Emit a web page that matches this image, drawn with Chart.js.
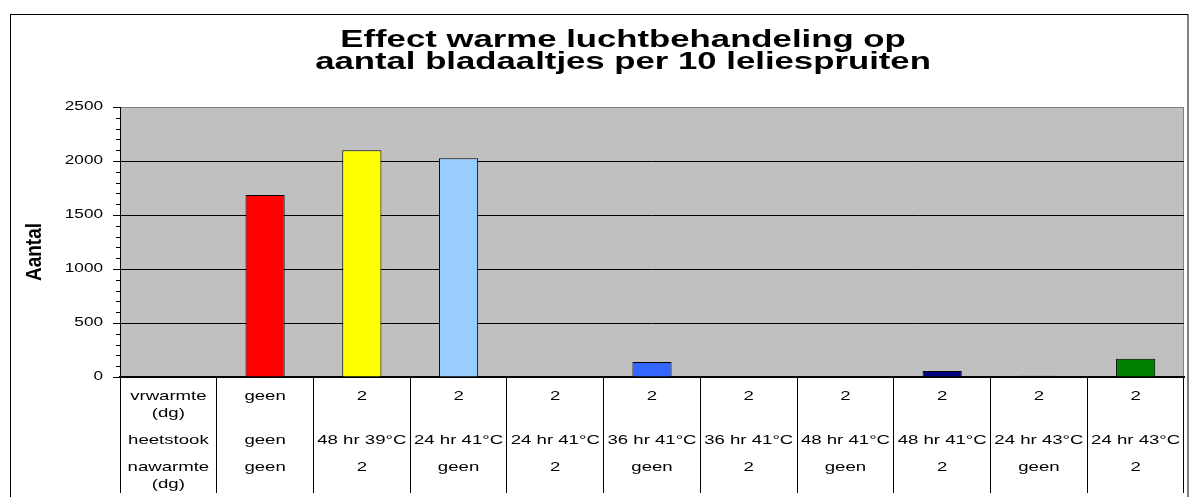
<!DOCTYPE html>
<html>
<head>
<meta charset="utf-8">
<script src="https://cdn.jsdelivr.net/npm/chart.js@4.4.1/dist/chart.umd.min.js"></script>
<style>
  html, body { margin: 0; padding: 0; background: #ffffff; }
  #wrap { position: relative; width: 1189px; height: 497px; overflow: hidden; }
  canvas { display: block; }
</style>
</head>
<body>
<div id="wrap"><canvas id="c" width="1189" height="497"></canvas></div>
<script>
// ---- data ----
const titleLines = ["Effect warme luchtbehandeling op", "aantal bladaaltjes per 10 leliespruiten"];
const yTitle = "Aantal";
const rowHeaders = [["vrwarmte", "(dg)"], ["heetstook"], ["nawarmte", "(dg)"]];
const vrwarmte = ["geen", "2", "2", "2", "2", "2", "2", "2", "2", "2"];
const heetstook = ["geen", "48 hr 39°C", "24 hr 41°C", "24 hr 41°C", "36 hr 41°C", "36 hr 41°C", "48 hr 41°C", "48 hr 41°C", "24 hr 43°C", "24 hr 43°C"];
const nawarmte = ["geen", "2", "geen", "2", "geen", "2", "geen", "2", "geen", "2"];
const values = [null, 1685, 2100, 2025, 0, 140, 0, 0, 55, 12, 168];
const barColors = ["#ffffff", "#ff0000", "#ffff00", "#99ccff", "#3366ff", "#3366ff", "#000080", "#000080", "#000080", "#1a1a00", "#008000"];
const yMin = 0, yMax = 2500, yStep = 500, yMinorStep = 100;

// categories: first column holds the row headers, the rest the treatments
const categories = ["kop"].concat(heetstook.map((h, i) => vrwarmte[i] + " | " + h + " | " + nawarmte[i]));

const FONT = "'Liberation Sans', Arial, sans-serif";
const SX = 1.43;       // horizontal glyph stretch seen in the reference
const SX_TITLE = 1.51;

const stretchPlugin = {
  id: 'stretch',
  beforeDraw(chart) {
    const ctx = chart.ctx;
    const orig = CanvasRenderingContext2D.prototype.fillText;
    ctx.fillText = function (text, x, y, maxWidth) {
      const m = this.getTransform();
      if (m.b !== 0 || m.c !== 0) {
        return maxWidth === undefined ? orig.call(this, text, x, y) : orig.call(this, text, x, y, maxWidth);
      }
      const sx = this.font.indexOf('23px') >= 0 ? SX_TITLE : SX;
      this.save();
      this.translate(x, y);
      this.scale(sx, 1);
      if (maxWidth === undefined) orig.call(this, text, 0, 0); else orig.call(this, text, 0, 0, maxWidth);
      this.restore();
    };
    // frame + plot background
    const a = chart.chartArea;
    ctx.save();
    ctx.strokeStyle = '#000000';
    ctx.lineWidth = 1;
    ctx.strokeRect(10.5, 14.5, 1177.5, 500);
    ctx.fillStyle = '#c0c0c0';
    ctx.fillRect(a.left, a.top, a.right - a.left, a.bottom - a.top);
    ctx.strokeStyle = '#808080';
    ctx.beginPath();
    ctx.moveTo(a.left, a.top + 0.5);
    ctx.lineTo(a.right - 0.5, a.top + 0.5);
    ctx.lineTo(a.right - 0.5, a.bottom);
    ctx.stroke();
    ctx.restore();
  },
  afterDatasetsDraw(chart) {
    const ctx = chart.ctx;
    const x = chart.scales.x, y = chart.scales.y;
    ctx.save();
    // minor ticks
    ctx.strokeStyle = '#000000';
    ctx.lineWidth = 1;
    ctx.beginPath();
    for (let v = yMin + yMinorStep; v < yMax; v += yMinorStep) {
      if (v % yStep === 0) continue;
      const py = Math.round(y.getPixelForValue(v)) + 0.5;
      ctx.moveTo(x.left - 4, py);
      ctx.lineTo(x.left, py);
    }
    ctx.stroke();
    // data table
    ctx.fillStyle = '#000000';
    ctx.font = '13px ' + FONT;
    ctx.textAlign = 'center';
    ctx.textBaseline = 'middle';
    const rowY = [[396, 413], [440], [467, 484]];
    rowHeaders.forEach((lines, r) => {
      lines.forEach((t, k) => ctx.fillText(t, x.getPixelForValue(0), rowY[r][k]));
    });
    [vrwarmte, heetstook, nawarmte].forEach((row, r) => {
      row.forEach((t, i) => ctx.fillText(t, x.getPixelForValue(i + 1), rowY[r][0]));
    });
    ctx.restore();
  },
  afterDraw(chart) {
    const ctx = chart.ctx;
    delete ctx.fillText;
    ctx.save();
    ctx.translate(35, 252);
    ctx.rotate(-Math.PI / 2);
    ctx.scale(1, 1.15);
    ctx.font = 'bold 19px ' + FONT;
    ctx.fillStyle = '#000000';
    ctx.textAlign = 'center';
    ctx.textBaseline = 'middle';
    ctx.fillText(yTitle, 0, 0);
    ctx.restore();
  }
};

new Chart(document.getElementById('c'), {
  type: 'bar',
  data: {
    labels: categories,
    datasets: [{
      data: values,
      backgroundColor: barColors,
      borderColor: '#000000',
      borderWidth: 1,
      barPercentage: 0.405,
      categoryPercentage: 1.0
    }]
  },
  options: {
    responsive: false,
    animation: false,
    layout: { padding: { left: 62, right: 5, top: 15, bottom: 0 } },
    plugins: {
      legend: { display: false },
      tooltip: { enabled: false },
      title: {
        display: true,
        text: titleLines,
        color: '#000000',
        font: { family: FONT, size: 23, weight: 'bold', lineHeight: 22 / 23 },
        padding: { top: 15, bottom: 33 }
      }
    },
    scales: {
      x: {
        type: 'category',
        offset: true,
        grid: { offset: true, drawOnChartArea: false, tickLength: 116, color: '#000000', lineWidth: 1 },
        border: { color: '#000000', width: 2 },
        ticks: { display: false },
        afterFit(s) { s.height = 120; }
      },
      y: {
        min: yMin,
        max: yMax,
        ticks: {
          stepSize: yStep,
          color: '#000000',
          padding: 10,
          font: { family: FONT, size: 12 },
          callback: (v) => String(v)
        },
        grid: {
          color: (c) => (c.tick && c.tick.value === yMax) ? '#808080' : '#000000',
          tickColor: '#000000',
          tickLength: 7,
          lineWidth: 1
        },
        border: { color: '#000000', width: 1 },
        afterFit(s) { s.width = 58; }
      }
    }
  },
  plugins: [stretchPlugin]
});
</script>
</body>
</html>
